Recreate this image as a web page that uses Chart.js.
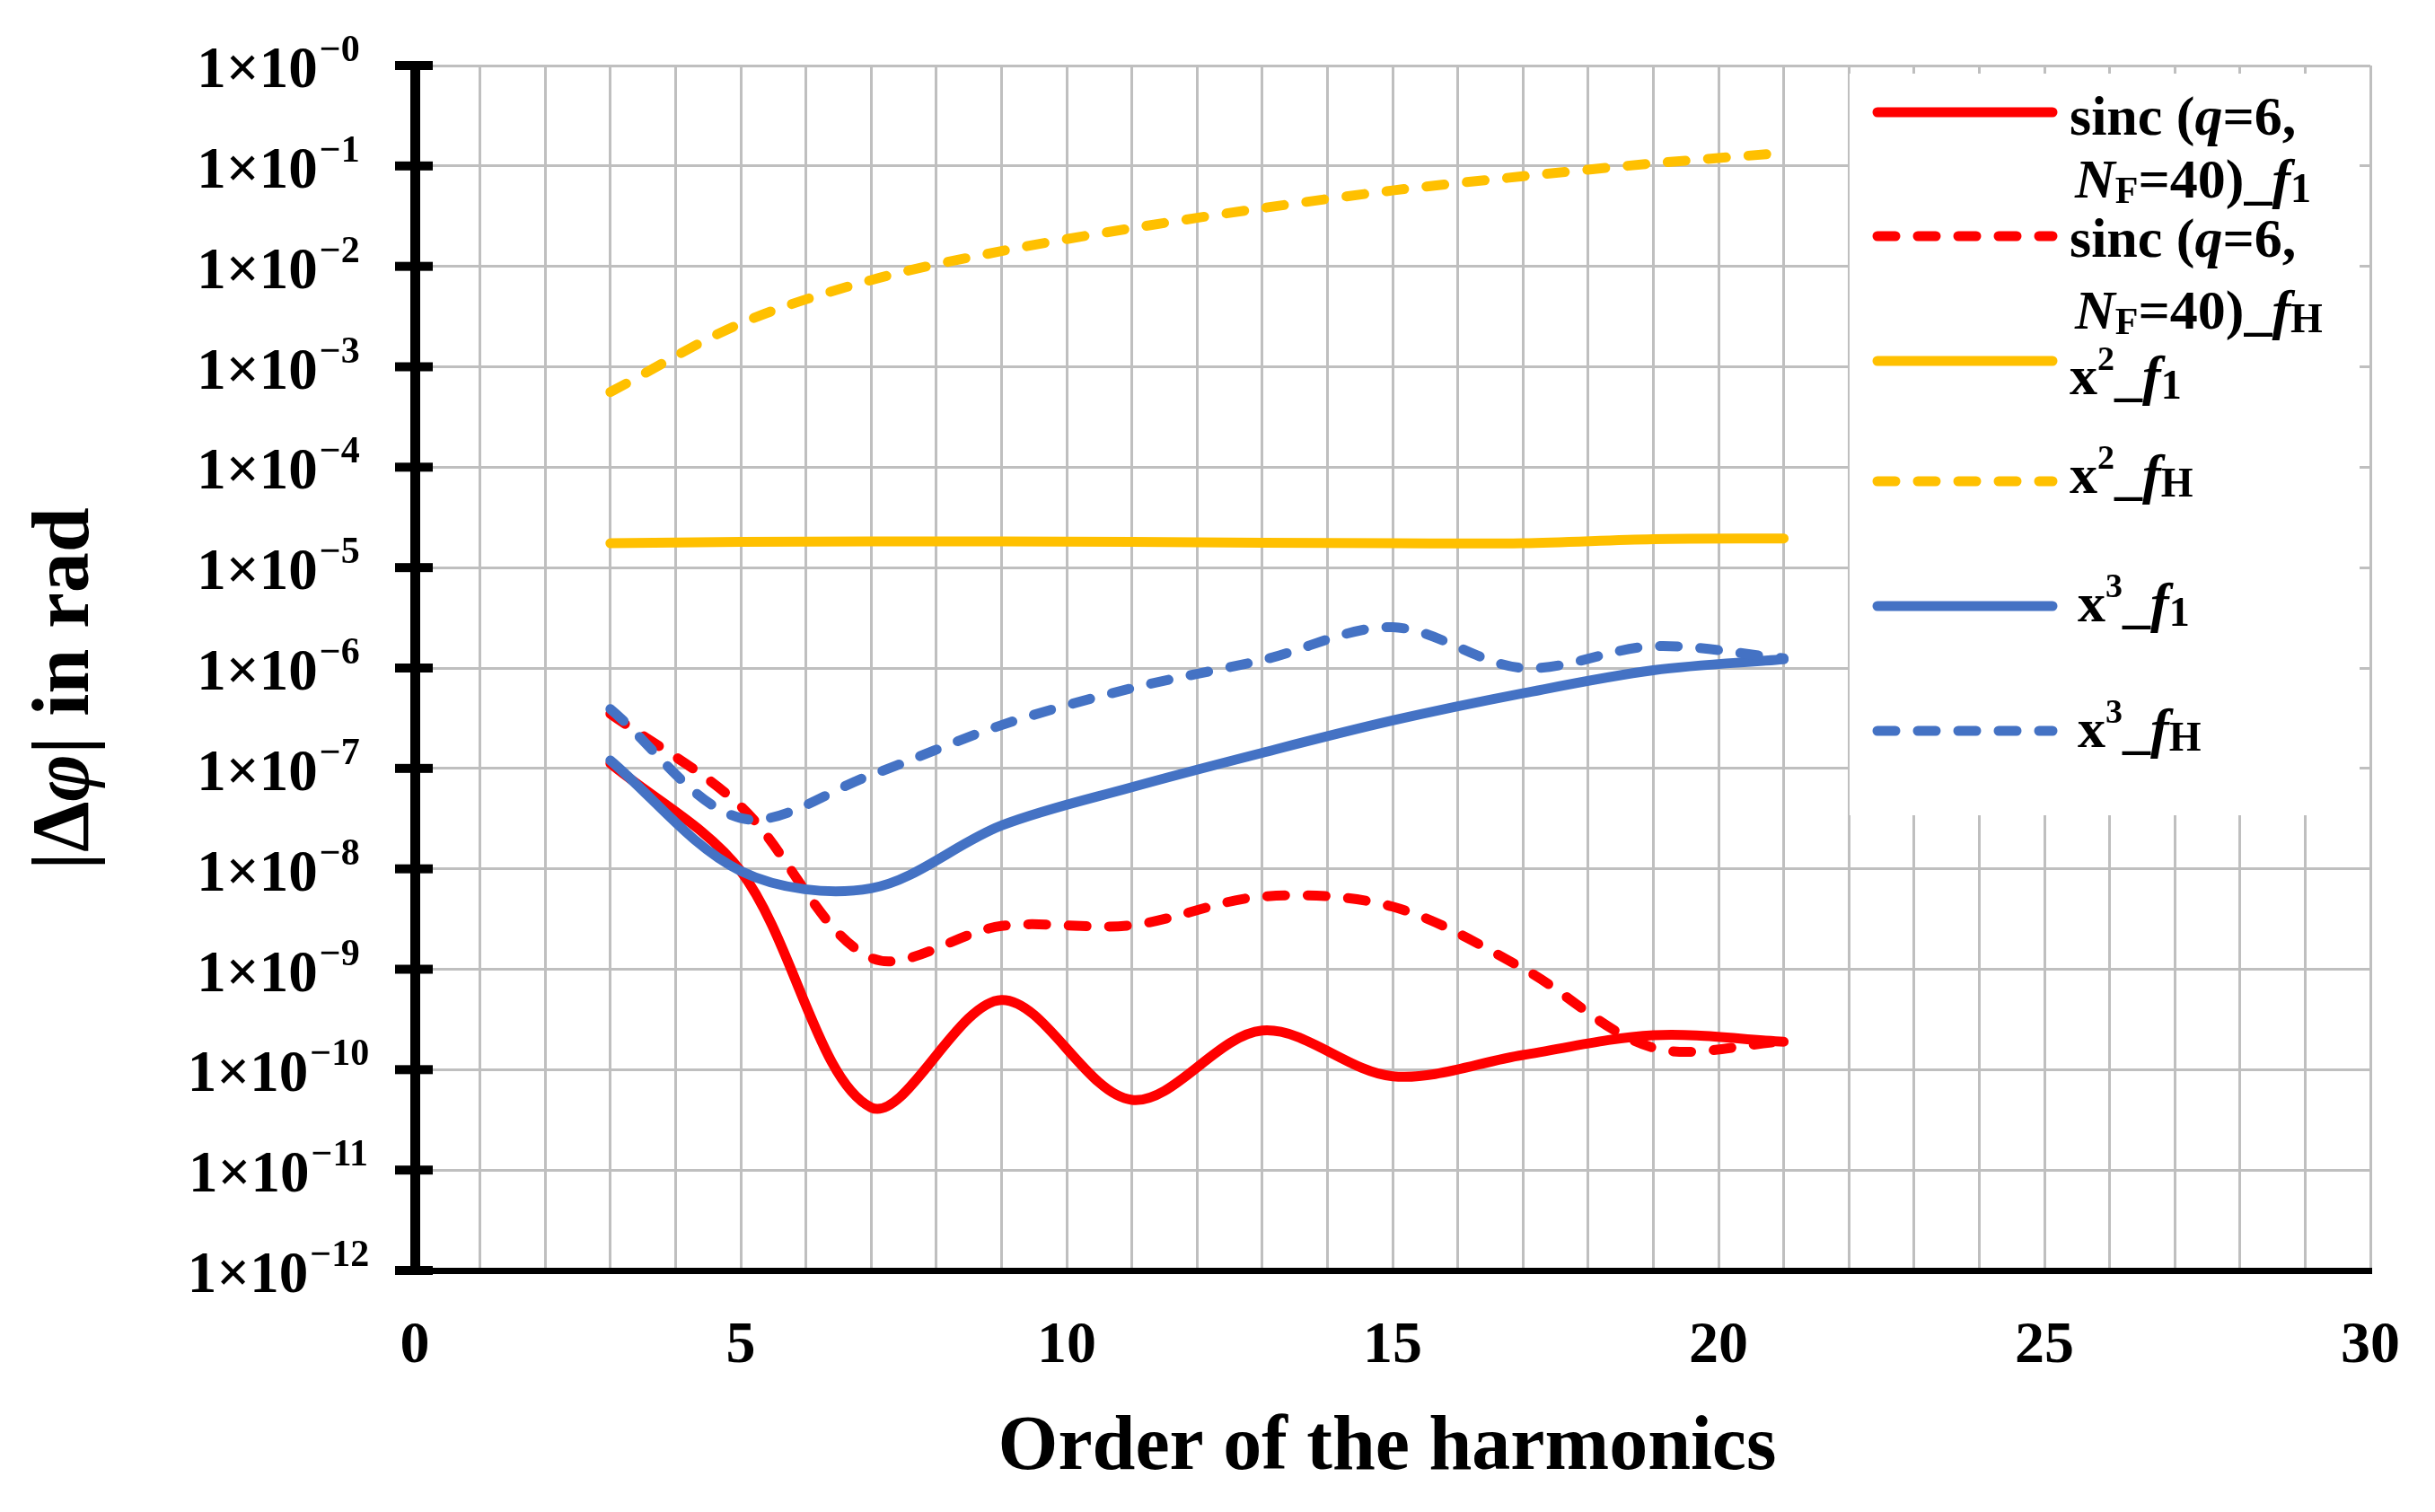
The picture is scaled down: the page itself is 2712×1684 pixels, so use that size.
<!DOCTYPE html>
<html>
<head>
<meta charset="utf-8">
<script src="https://cdn.jsdelivr.net/npm/chart.js@4.4.1/dist/chart.umd.min.js"></script>
<style>
  html, body { margin: 0; padding: 0; background: #ffffff; }
  canvas { display: block; }
</style>
</head>
<body>
<canvas id="c" width="2712" height="1684" style="width:2712px;height:1684px"></canvas>
<script>
// ---------------- data ----------------
const harmonics = [3, 5, 7, 9, 11, 13, 15, 17, 19, 21];
const sincF1 = [1.12e-7, 9.5e-9, 4.2e-11, 4.95e-10, 5.0e-11, 2.45e-10, 8.6e-11, 1.4e-10, 2.2e-10, 1.9e-10];
const sincFH = [3.5e-7, 4.2e-8, 1.3e-9, 2.7e-9, 2.75e-9, 5.3e-9, 4.2e-9, 1.02e-9, 1.65e-10, 1.9e-10];
const x2F1 = [1.75e-5, 1.8e-5, 1.82e-5, 1.82e-5, 1.8e-5, 1.77e-5, 1.75e-5, 1.75e-5, 1.92e-5, 1.95e-5];
const x2FH = [5.6e-4, 2.7e-3, 7.3e-3, 1.42e-2, 2.4e-2, 3.8e-2, 5.7e-2, 7.9e-2, 1.06e-1, 1.35e-1];
const x3F1 = [1.2e-7, 9.5e-9, 6.4e-9, 2.7e-8, 6.5e-8, 1.43e-7, 3.0e-7, 5.6e-7, 9.5e-7, 1.22e-6];
const x3FH = [3.9e-7, 3.2e-8, 8.6e-8, 2.7e-7, 6.3e-7, 1.2e-6, 2.55e-6, 1.0e-6, 1.65e-6, 1.25e-6];

const yTickValues = [1, 1e-1, 1e-2, 1e-3, 1e-4, 1e-5, 1e-6, 1e-7, 1e-8, 1e-9, 1e-10, 1e-11, 1e-12];
const yTickExponents = ['0', '1', '2', '3', '4', '5', '6', '7', '8', '9', '10', '11', '12'];
const xTickLabels = [0, 5, 10, 15, 20, 25, 30];
const xTitle = 'Order of the harmonics';

// ---------------- helpers ----------------
const SERIF = '"Liberation Serif", "Times New Roman", serif';
function fnt(size, italic) { return (italic ? 'italic ' : '') + 'bold ' + size + 'px ' + SERIF; }
function runsWidth(ctx, runs) {
  let w = 0;
  for (const r of runs) { ctx.font = fnt(r.size || 62, r.it); w += ctx.measureText(r.t).width; }
  return w;
}
function drawRuns(ctx, x, y, runs) {
  for (const r of runs) {
    ctx.font = fnt(r.size || 62, r.it);
    ctx.fillText(r.t, x, y + (r.dy || 0));
    x += ctx.measureText(r.t).width;
  }
  return x;
}
const pts = (vals) => harmonics.map((h, i) => ({ x: h, y: vals[i] }));

const RED = '#FF0000', YEL = '#FFC000', BLUE = '#4472C4';
const DASH = [20, 25];
const LW = 11;

function ds(label, vals, color, dashed, order) {
  return {
    label: label, data: pts(vals), borderColor: color, backgroundColor: color,
    borderWidth: LW, borderDash: dashed ? DASH : [], borderCapStyle: 'round',
    borderJoinStyle: 'round', pointRadius: 0, pointHoverRadius: 0,
    tension: 0.33, fill: false, order: order
  };
}

// legend rows (rich text)
const legendRows = [
  { lineY: 125, lines: [
      { x: 2305, y: 150, runs: [{ t: 'sinc (' }, { t: 'q', it: true }, { t: '=6,' }] },
      { x: 2311, y: 220, runs: [{ t: 'N', it: true }, { t: 'F', size: 42, dy: 6 }, { t: '=40)_' }, { t: 'f', it: true }, { t: '1', size: 46, dy: 5 }] }
  ] },
  { lineY: 263, lines: [
      { x: 2305, y: 286, runs: [{ t: 'sinc (' }, { t: 'q', it: true }, { t: '=6,' }] },
      { x: 2311, y: 366, runs: [{ t: 'N', it: true }, { t: 'F', size: 42, dy: 6 }, { t: '=40)_' }, { t: 'f', it: true }, { t: 'H', size: 46, dy: 4 }] }
  ] },
  { lineY: 402, lines: [
      { x: 2305, y: 439, runs: [{ t: 'x' }, { t: '2', size: 38, dy: -27 }, { t: '_' }, { t: 'f', it: true }, { t: '1', size: 46, dy: 5 }] }
  ] },
  { lineY: 536, lines: [
      { x: 2305, y: 549, runs: [{ t: 'x' }, { t: '2', size: 38, dy: -27 }, { t: '_' }, { t: 'f', it: true }, { t: 'H', size: 46, dy: 4 }] }
  ] },
  { lineY: 675, lines: [
      { x: 2314, y: 692, runs: [{ t: 'x' }, { t: '3', size: 38, dy: -27 }, { t: '_' }, { t: 'f', it: true }, { t: '1', size: 46, dy: 5 }] }
  ] },
  { lineY: 814, lines: [
      { x: 2314, y: 832, runs: [{ t: 'x' }, { t: '3', size: 38, dy: -27 }, { t: '_' }, { t: 'f', it: true }, { t: 'H', size: 46, dy: 4 }] }
  ] }
];

const decor = {
  id: 'decor',
  beforeDraw(chart) {
    const ctx = chart.ctx;
    ctx.save();
    ctx.fillStyle = '#ffffff';
    ctx.fillRect(0, 0, chart.width, chart.height);
    ctx.restore();
  },
  afterDraw(chart) {
    const ctx = chart.ctx;
    const xs = chart.scales.x, ys = chart.scales.y;
    const ca = chart.chartArea;
    ctx.save();
    ctx.fillStyle = '#000000';
    // y-axis cross ticks
    for (const v of yTickValues) {
      const py = ys.getPixelForValue(v);
      ctx.fillRect(ca.left - 22, py - 5, 42, 10);
    }
    // y tick labels  1×10^-k
    ctx.textAlign = 'left';
    ctx.textBaseline = 'alphabetic';
    yTickValues.forEach((v, i) => {
      const py = ys.getPixelForValue(v);
      const main = '1\u00D710';
      const sup = '\u2212' + yTickExponents[i];
      ctx.font = fnt(65, false);
      const wm = ctx.measureText(main).width;
      ctx.font = fnt(42, false);
      const wsup = ctx.measureText(sup).width;
      const start = 310 - (wm + wsup + 2) / 2;
      ctx.font = fnt(65, false);
      ctx.fillText(main, start, py + 24);
      ctx.font = fnt(42, false);
      ctx.fillText(sup, start + wm + 2, py - 5);
    });
    // x tick labels
    ctx.textAlign = 'center';
    ctx.font = fnt(66, false);
    for (const v of xTickLabels) {
      ctx.fillText(String(v), xs.getPixelForValue(v), 1517);
    }
    // x title
    ctx.font = fnt(86, false);
    ctx.fillText(xTitle, 1545, 1636);
    // y title (rotated)
    const yRuns = [{ t: '|\u0394', size: 90 }, { t: '\u03C6', size: 90, it: true }, { t: '| in rad', size: 90 }];
    const tw = runsWidth(ctx, yRuns);
    ctx.translate(98, 767);
    ctx.rotate(-Math.PI / 2);
    ctx.textAlign = 'left';
    drawRuns(ctx, -tw / 2, 0, yRuns);
    ctx.restore();

    // legend
    ctx.save();
    ctx.fillStyle = '#ffffff';
    ctx.fillRect(2060, 82, 568, 826);
    const dsets = chart.data.datasets;
    legendRows.forEach((row, i) => {
      const d = dsets[i];
      ctx.strokeStyle = d.borderColor;
      ctx.lineWidth = 11;
      ctx.lineCap = 'round';
      ctx.setLineDash(d.borderDash || []);
      ctx.beginPath();
      ctx.moveTo(2091, row.lineY);
      ctx.lineTo(2286, row.lineY);
      ctx.stroke();
      ctx.setLineDash([]);
      ctx.fillStyle = '#000000';
      ctx.textAlign = 'left';
      ctx.textBaseline = 'alphabetic';
      for (const ln of row.lines) drawRuns(ctx, ln.x, ln.y, ln.runs);
    });
    ctx.restore();
  }
};

const gridCfg = { color: '#bfbfbf', lineWidth: 3, drawTicks: false };

new Chart(document.getElementById('c').getContext('2d'), {
  type: 'line',
  data: {
    datasets: [
      ds('sinc (q=6, NF=40)_f1', sincF1, RED, false, 5),
      ds('sinc (q=6, NF=40)_fH', sincFH, RED, true, 4),
      ds('x2_f1', x2F1, YEL, false, 3),
      ds('x2_fH', x2FH, YEL, true, 2),
      ds('x3_f1', x3F1, BLUE, false, 1),
      ds('x3_fH', x3FH, BLUE, true, 0)
    ]
  },
  options: {
    responsive: false,
    animation: false,
    devicePixelRatio: 1,
    layout: { padding: { left: 462, right: 72, top: 73, bottom: 269 } },
    plugins: { legend: { display: false }, tooltip: { enabled: false }, title: { display: false } },
    scales: {
      x: {
        type: 'linear', min: 0, max: 30,
        ticks: { display: false, stepSize: 1 },
        grid: gridCfg,
        border: { display: true, color: '#000000', width: 7 }
      },
      y: {
        type: 'logarithmic', min: 1e-12, max: 1,
        afterBuildTicks: (s) => { s.ticks = yTickValues.map(v => ({ value: v })); },
        ticks: { display: false },
        grid: gridCfg,
        border: { display: true, color: '#000000', width: 11 }
      }
    }
  },
  plugins: [decor]
});
</script>
</body>
</html>
